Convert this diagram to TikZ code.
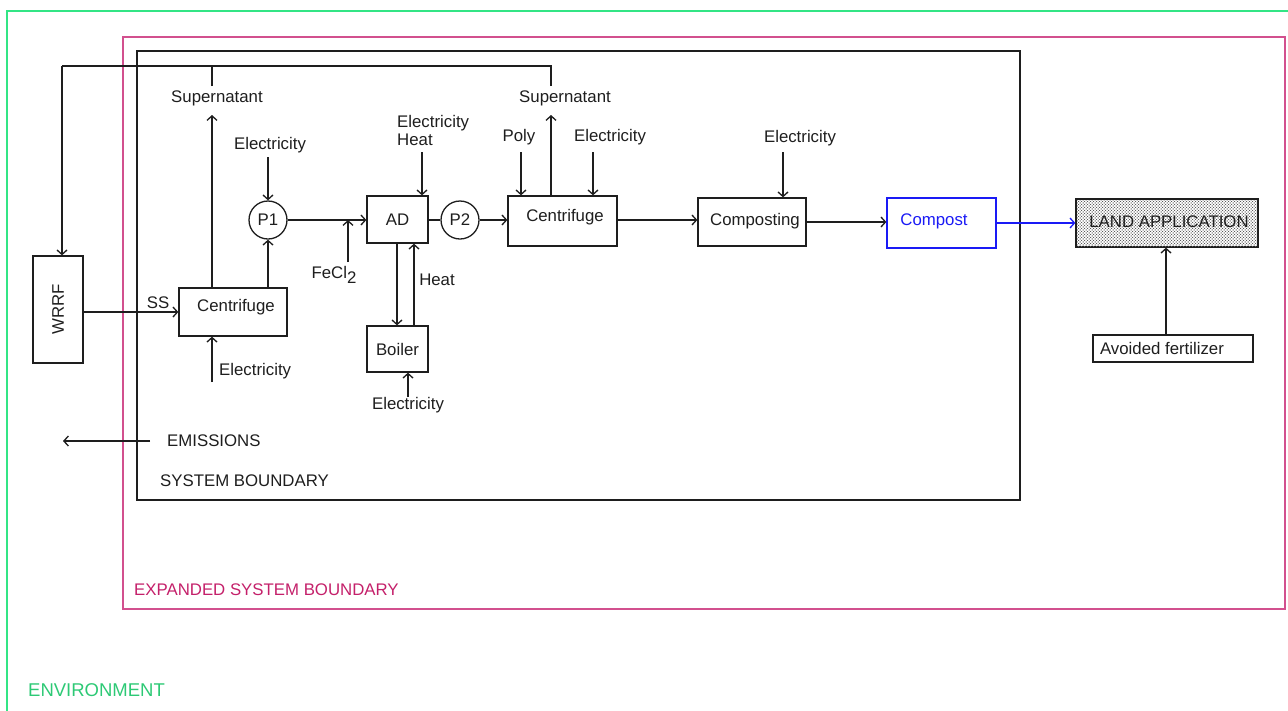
\documentclass[tikz,border=0pt]{standalone}
\usepackage{fontspec}
\setmainfont{Liberation Sans}
\usetikzlibrary{arrows.meta,patterns}
\definecolor{envgreen}{HTML}{33E585}
\definecolor{exppink}{HTML}{D2508E}
\definecolor{exptext}{HTML}{C4206A}
\definecolor{cblue}{HTML}{1A1AF5}
\definecolor{lnblack}{HTML}{1E1E1E}
\begin{document}
\begin{tikzpicture}[x=1pt,y=-1pt,
  every node/.style={font=\fontsize{16.8}{19}\selectfont, text=lnblack},
  box/.style={draw=lnblack, line width=1.3pt, inner sep=0pt},
  pump/.style={draw=lnblack, circle, line width=1.3pt, minimum size=38pt, inner sep=0pt},
  lbl/.style={inner sep=0pt},
  arr/.style={draw=lnblack, line width=1.3pt, -{Straight Barb[length=4.5pt,width=10pt]}},
  ln/.style={draw=lnblack, line width=1.3pt}]
\useasboundingbox (0,0) rectangle (1288,710);
% boundaries
\draw[envgreen, line width=1.5pt] (7,11) rectangle (1300,725);
\draw[exppink, line width=1.7pt] (123,37) rectangle (1285,609);
\draw[lnblack, line width=1.5pt] (137,51) rectangle (1020,500);
\node[lbl, text=envgreen!88!black, anchor=west, font=\fontsize{18.5}{20}\selectfont] (envl) at (28,690) {ENVIRONMENT};
\node[lbl, text=exptext, anchor=west] (expl) at (134,590) {EXPANDED SYSTEM BOUNDARY};
\node[lbl, anchor=west] (sysl) at (160,481) {SYSTEM BOUNDARY};

% boxes
\node[box, minimum width=50pt, minimum height=107pt] (wrrf) at (58,309.5) {};
\node[lbl, rotate=90] (wrrft) at (wrrf.center) {WRRF};
\node[box, minimum width=108pt, minimum height=48pt] (c1) at (233,312) {};
\node[lbl] (c1t) at (236,307) {Centrifuge};
\node[pump] (p1) at (268,220) {P1};
\node[box, minimum width=61pt, minimum height=47pt] (ad) at (397.5,219.5) {AD};
\node[box, minimum width=61pt, minimum height=46pt] (boiler) at (397.5,349) {Boiler};
\node[pump] (p2) at (460,220) {P2};
\node[box, minimum width=109pt, minimum height=50pt] (c2) at (562.5,221) {};
\node[lbl] (c2t) at (565,217) {Centrifuge};
\node[box, minimum width=108pt, minimum height=48pt] (comp) at (752,222) {};
\node[lbl] (compt) at (755,221) {Composting};
\node[box, draw=cblue, minimum width=109pt, minimum height=50pt] (compost) at (941.5,223) {};
\node[lbl, text=cblue] (compostt) at (934,221) {Compost};
\node[box, minimum width=182pt, minimum height=48pt, fill=black!30, pattern=crosshatch dots, pattern color=black] (land) at (1167,223) {};
\node[box, draw=none, minimum width=180pt, minimum height=46pt, pattern=crosshatch dots, pattern color=black!60] (land2) at (1167,223) {};
\node[lbl] (landt) at (1169,222) {LAND APPLICATION};
\node[box, minimum width=160pt, minimum height=27pt] (avoid) at (1173,348.5) {};
\node[lbl] (avoidt) at (1162,348) {Avoided fertilizer};

% labels
\node[lbl] (sup1) at (217,98) {Supernatant};
\node[lbl] (sup2) at (565,98) {Supernatant};
\node[lbl] (eP1) at (270,145) {Electricity};
\node[lbl] (fecl) at (334,275) {FeCl\raisebox{-5pt}{2}};
\node[lbl, align=left, anchor=north west] (eAD) at (397,115) {Electricity\\[-1pt]Heat};
\node[lbl] (heat) at (437,280) {Heat};
\node[lbl] (eB) at (408,405) {Electricity};
\node[lbl] (poly) at (519,137) {Poly};
\node[lbl] (eC2) at (610,137) {Electricity};
\node[lbl] (eComp) at (800,138) {Electricity};
\node[lbl] (ss) at (158,303) {SS};
\node[lbl, anchor=west] (eC1) at (219,371) {Electricity};
\node[lbl, anchor=west] (emis) at (167,441) {EMISSIONS};

% coordinates
\coordinate (t1) at (62,66);
\coordinate (t2) at (212,66);
\coordinate (t3) at (551,66);
\coordinate (s1b) at (212,86);
\coordinate (s2b) at (551,86);
\coordinate (s1a) at (212,115);
\coordinate (s2a) at (551,115);
\coordinate (fe) at (348,262);
\coordinate (eadb) at (422,152);
\coordinate (eP1b) at (268,157);
\coordinate (ebt) at (408,397);
\coordinate (polyb) at (521,152);
\coordinate (ec2b) at (593,152);
\coordinate (ecompb) at (783,152);
\coordinate (ec1t) at (212,382);
\coordinate (emA) at (150,441);
\coordinate (emB) at (63,441);
\coordinate (adx1) at (397,0);
\coordinate (adx2) at (414,0);
\coordinate (landx) at (1166,0);

% connectors
\draw[ln] (s2b) -- (t3) -- (t1);
\draw[arr] (t1) -- (t1 |- wrrf.north);
\draw[ln] (s1b) -- (t2);
\draw[arr] (c1.north -| s1a) -- (s1a);
\draw[arr] (c2.north -| s2a) -- (s2a);
\draw[arr] (wrrf.east |- c1.west) -- (c1.west);
\draw[arr] (c1.north -| p1.south) -- (p1.south);
\draw[arr] (eP1b) -- (p1.north);
\draw[arr] (p1.east) -- (p1.east -| ad.west);
\draw[arr] (fe) -- (fe |- p1.east);
\draw[arr] (eadb) -- (eadb |- ad.north);
\draw[arr] (ad.south -| adx1) -- (boiler.north -| adx1);
\draw[arr] (boiler.north -| adx2) -- (ad.south -| adx2);
\draw[arr] (ebt) -- (ebt |- boiler.south);
\draw[ln] (ad.east |- p2.west) -- (p2.west);
\draw[arr] (p2.east) -- (p2.east -| c2.west);
\draw[arr] (polyb) -- (polyb |- c2.north);
\draw[arr] (ec2b) -- (ec2b |- c2.north);
\draw[arr] (c2.east |- p2.east) -- (p2.east -| comp.west);
\draw[arr] (ecompb) -- (ecompb |- comp.north);
\draw[arr] (comp.east) -- (compost.west |- comp.east);
\draw[draw=cblue, line width=1.3pt, -{Straight Barb[length=4.5pt,width=10pt]}] (compost.east |- land.west) -- (land.west);
\draw[arr] (avoid.north -| landx) -- (land.south -| landx);
\draw[arr] (ec1t) -- (ec1t |- c1.south);
\draw[arr] (emA) -- (emB);
\end{tikzpicture}
\end{document}
